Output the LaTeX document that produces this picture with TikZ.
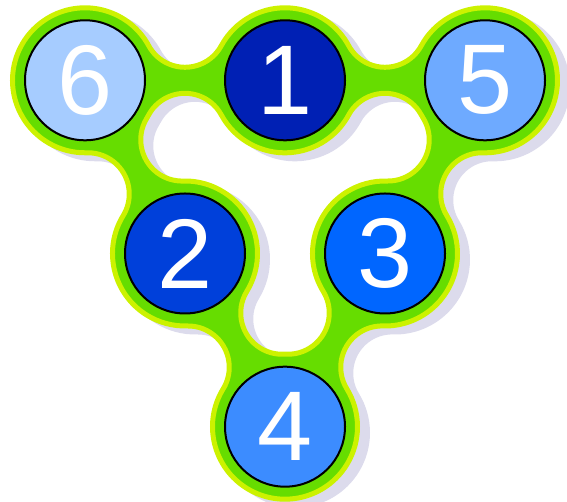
\documentclass[tikz,border=0pt]{standalone}
\usepackage{fontspec}
\setmainfont{Liberation Sans}
\usetikzlibrary{calc, backgrounds}
\definecolor{ringgreen}{RGB}{102,221,0}
\definecolor{rimyellow}{RGB}{204,242,0}
\definecolor{shadowgray}{RGB}{220,219,236}
\definecolor{paleblue}{RGB}{166,204,255}
\definecolor{deepblue}{RGB}{0,32,180}
\definecolor{skyblue}{RGB}{110,170,255}
\definecolor{royalblue}{RGB}{0,64,218}
\definecolor{brightblue}{RGB}{0,102,255}
\definecolor{midblue}{RGB}{60,140,255}
\def\diskr{72.5}
\def\filr{41.3}
\def\fila{28.51}
\newcommand{\blobpath}{
  ($(n4)+(120+\fila:\diskr)$)
    arc[start angle=120+\fila, end angle=420-\fila, radius=\diskr]
    arc[start angle=240-\fila, end angle=60+\fila, radius=\filr]
    arc[start angle=240+\fila, end angle=420-\fila, radius=\diskr]
    arc[start angle=240-\fila, end angle=60+\fila, radius=\filr]
    arc[start angle=240+\fila, end angle=540-\fila, radius=\diskr]
    arc[start angle=360-\fila, end angle=180+\fila, radius=\filr]
    arc[start angle=360+\fila, end angle=540-\fila, radius=\diskr]
    arc[start angle=360-\fila, end angle=180+\fila, radius=\filr]
    arc[start angle=360+\fila, end angle=660-\fila, radius=\diskr]
    arc[start angle=480-\fila, end angle=300+\fila, radius=\filr]
    arc[start angle=480+\fila, end angle=660-\fila, radius=\diskr]
    arc[start angle=480-\fila, end angle=300+\fila, radius=\filr]
    -- cycle
  ($(n4)+(480-\fila:\diskr)$)
    arc[start angle=480-\fila, end angle=420+\fila, radius=\diskr]
    arc[start angle=240+\fila, end angle=420-\fila, radius=\filr]
    arc[start angle=240-\fila, end angle=60+\fila, radius=\diskr]
    arc[start angle=240+\fila, end angle=420-\fila, radius=\filr]
    arc[start angle=240-\fila, end angle=180+\fila, radius=\diskr]
    arc[start angle=360+\fila, end angle=540-\fila, radius=\filr]
    arc[start angle=360-\fila, end angle=180+\fila, radius=\diskr]
    arc[start angle=360+\fila, end angle=540-\fila, radius=\filr]
    arc[start angle=360-\fila, end angle=300+\fila, radius=\diskr]
    arc[start angle=480+\fila, end angle=660-\fila, radius=\filr]
    arc[start angle=480-\fila, end angle=300+\fila, radius=\diskr]
    arc[start angle=480+\fila, end angle=660-\fila, radius=\filr]
    -- cycle}

\begin{document}
\begin{tikzpicture}[
        x=1pt, y=1pt,
        ball/.style={circle, draw=black, line width=2pt, minimum size=120pt, inner sep=0pt, text=white, font=\fontsize{99}{99}\selectfont},
        blob/.style={fill=ringgreen, draw=rimyellow, line width=5pt, even odd rule},
        blobshadow/.style={fill=shadowgray, draw=shadowgray, line width=5pt, even odd rule}
    ]
        \useasboundingbox (0,0) rectangle (567,502);

        \node [ball, fill=paleblue] (n6) at (85,421.7) {6};
        \node [ball, fill=deepblue] (n1) at (285,421.7) {1};
        \node [ball, fill=skyblue] (n5) at (485,421.7) {5};
        \node [ball, fill=royalblue] (n2) at (185,248.5) {2};
        \node [ball, fill=brightblue] (n3) at (385,248.5) {3};
        \node [ball, fill=midblue] (n4) at (285,75.3) {4};

        \begin{scope}[on background layer]
            \begin{scope}[transform canvas={xshift=10pt, yshift=-6pt}]
                \path [blobshadow] \blobpath;
            \end{scope}
            \path [blob] \blobpath;
        \end{scope}
    \end{tikzpicture}
\end{document}
